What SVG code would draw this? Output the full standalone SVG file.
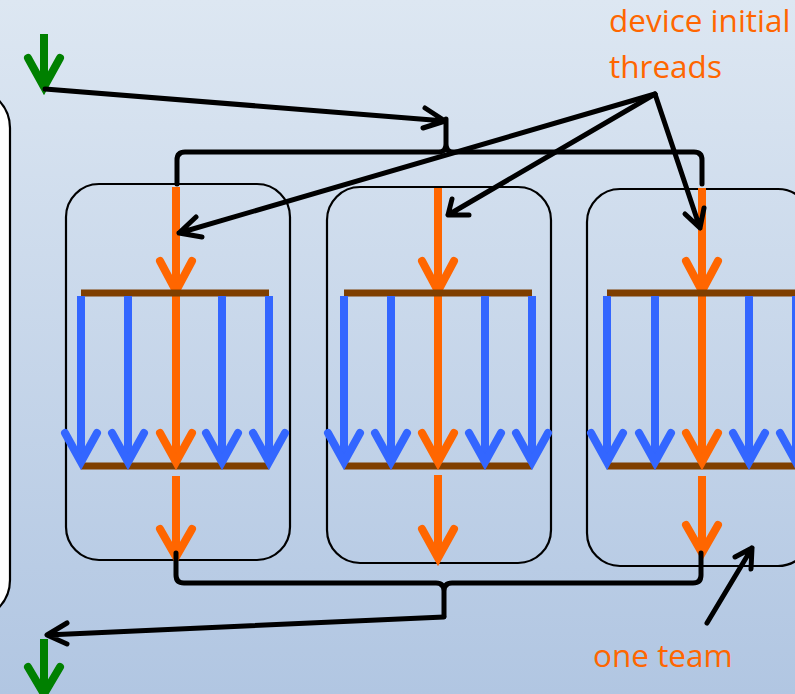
<svg xmlns="http://www.w3.org/2000/svg" width="795" height="694" viewBox="0 0 795 694">
<defs>
<linearGradient id="bg" x1="0" y1="0" x2="0" y2="1">
<stop offset="0" stop-color="#dde7f2"/>
<stop offset="1" stop-color="#b1c6e2"/>
</linearGradient>
<style>
.box{fill:none;stroke:#000;stroke-width:2.2}
.or{stroke:#ff6600;stroke-width:8;fill:none;stroke-linecap:butt}
.orh{stroke:#ff6600;stroke-width:8;fill:none;stroke-linecap:round;stroke-linejoin:miter}
.bl{stroke:#3366ff;stroke-width:8;fill:none}
.blh{stroke:#3366ff;stroke-width:8;fill:none;stroke-linecap:round;stroke-linejoin:miter}
.bar{stroke:#7f3f00;stroke-width:7;fill:none}
.gr{stroke:#008000;stroke-width:8;fill:none}
.grh{stroke:#008000;stroke-width:8;fill:none;stroke-linecap:round;stroke-linejoin:miter}
.k{stroke:#000;stroke-width:5;fill:none;stroke-linecap:round;stroke-linejoin:round}
.lbl{font-family:"Open Sans","Liberation Sans",sans-serif;font-size:31.5px;fill:#ff6600}
</style>
</defs>
<rect width="795" height="694" fill="url(#bg)"/>
<rect x="-300" y="88" width="310" height="532" rx="40" fill="#fff" stroke="#000" stroke-width="2.2"/>

<g id="start">
<path class="gr" d="M44,34 V86"/>
<path class="grh" d="M28,58 L44,87 L60,58"/>
</g>
<g id="end">
<path class="gr" d="M44,639 V692"/>
<path class="grh" d="M28,667 L44,694 L60,667"/>
</g>

<g id="team1">
<rect class="box" x="66" y="184" width="224" height="376" rx="33"/>
<path class="or" d="M176,187 V462"/>
<path class="orh" d="M160,261 L176,291 L192,261"/>
<path class="bar" d="M81,293 H269 M81,466 H269"/>
<path class="bl" d="M81,296 V460 M128,296 V460 M222,296 V460 M269,296 V460"/>
<path class="blh" d="M65,433 L81,462 L97,433 M112,433 L128,462 L144,433 M206,433 L222,462 L238,433 M253,433 L269,462 L285,433"/>
<path class="orh" d="M160,433 L176,462 L192,433"/>
<path class="or" d="M176,476 V556"/>
<path class="orh" d="M160,529 L176,557 L192,529"/>
</g>

<g id="team2">
<rect class="box" x="327" y="187" width="224" height="376" rx="33"/>
<path class="or" d="M438,188 V462"/>
<path class="orh" d="M422,261 L438,291 L454,261"/>
<path class="bar" d="M344,293 H532 M344,466 H532"/>
<path class="bl" d="M344,296 V460 M391,296 V460 M485,296 V460 M532,296 V460"/>
<path class="blh" d="M328,433 L344,462 L360,433 M375,433 L391,462 L407,433 M469,433 L485,462 L501,433 M516,433 L532,462 L548,433"/>
<path class="orh" d="M422,433 L438,462 L454,433"/>
<path class="or" d="M438,475 V557"/>
<path class="orh" d="M422,529 L438,558 L454,529"/>
</g>

<g id="team3">
<rect class="box" x="587" y="189" width="224" height="377" rx="33"/>
<path class="or" d="M702,188 V462"/>
<path class="orh" d="M686,261 L702,291 L718,261"/>
<path class="bar" d="M607,293 H800 M607,466 H800"/>
<path class="bl" d="M607,296 V460 M655,296 V460 M749,296 V460 M796,296 V460"/>
<path class="blh" d="M591,433 L607,462 L623,433 M639,433 L655,462 L671,433 M733,433 L749,462 L765,433 M780,433 L796,462 L812,433"/>
<path class="orh" d="M686,433 L702,462 L718,433"/>
<path class="or" d="M702,476 V552"/>
<path class="orh" d="M686,525 L702,553 L718,525"/>
</g>

<g id="connectors">
<path class="k" d="M45,89 L445,121 M425,108 L445,121 L423,128"/>
<path class="k" d="M177,184 V160 Q177,152 185,152 H439 Q446,152 446,144 V119 V144 Q446,152 453,152 H694 Q702,152 702,160 V184"/>
<path class="k" d="M176,553 V575 Q176,583 184,583 H436 Q444,583 444,591 V616 V591 Q444,583 452,583 H693 Q701,583 701,575 V553"/>
<path class="k" d="M444,617 L47,635 M67,623 L47,635 L67,644"/>
<path class="k" d="M655,94 L179,233 M196,217 L179,233 L202,237"/>
<path class="k" d="M655,94 L448,215 M452,199 L448,215 L469,215"/>
<path class="k" d="M655,94 L700,228 M685,214 L700,228 L704,208"/>
<path class="k" d="M707,623 L752,548 M735,557 L752,548 L751,569"/>
</g>

<text class="lbl" x="609" y="32">device initial</text>
<text class="lbl" x="609" y="78">threads</text>
<text class="lbl" x="593" y="667">one team</text>
</svg>
